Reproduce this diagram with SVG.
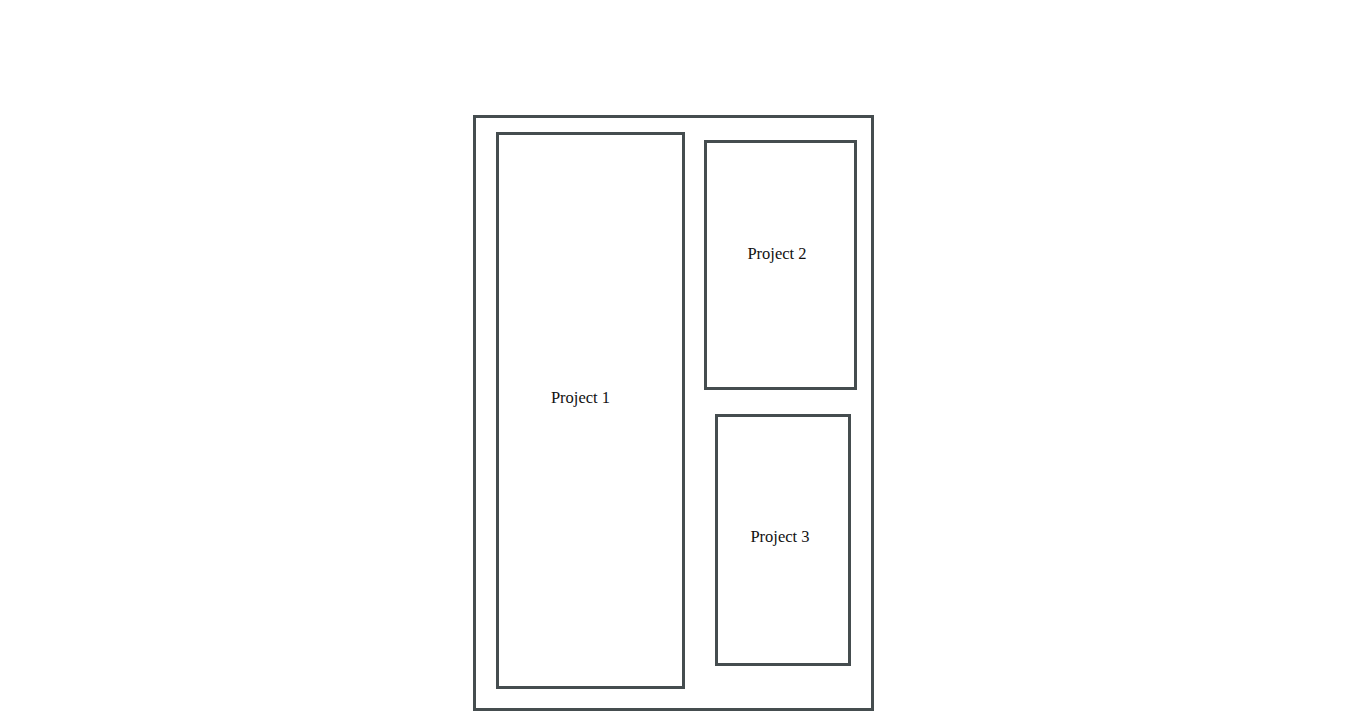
<svg xmlns="http://www.w3.org/2000/svg" width="1366" height="725" viewBox="0 0 1366 725">
<style>
.box{fill:none;stroke:#454d4f;stroke-width:3}
.lbl{font-family:"Liberation Serif","DejaVu Serif",serif;font-size:16.5px;fill:#111;text-anchor:middle;dominant-baseline:central}
</style>
<rect width="1366" height="725" fill="#fff"/>
<g id="container"><rect class="box" x="474.5" y="116.5" width="398" height="593"/></g>
<g id="project1"><rect class="box" x="497.5" y="133.5" width="186" height="554"/><text class="lbl" x="580.5" y="397">Project 1</text></g>
<g id="project2"><rect class="box" x="705.5" y="141.5" width="150" height="247"/><text class="lbl" x="777" y="253">Project 2</text></g>
<g id="project3"><rect class="box" x="716.5" y="415.5" width="133" height="249"/><text class="lbl" x="780" y="536">Project 3</text></g>
<g id="connectors"/>
</svg>
